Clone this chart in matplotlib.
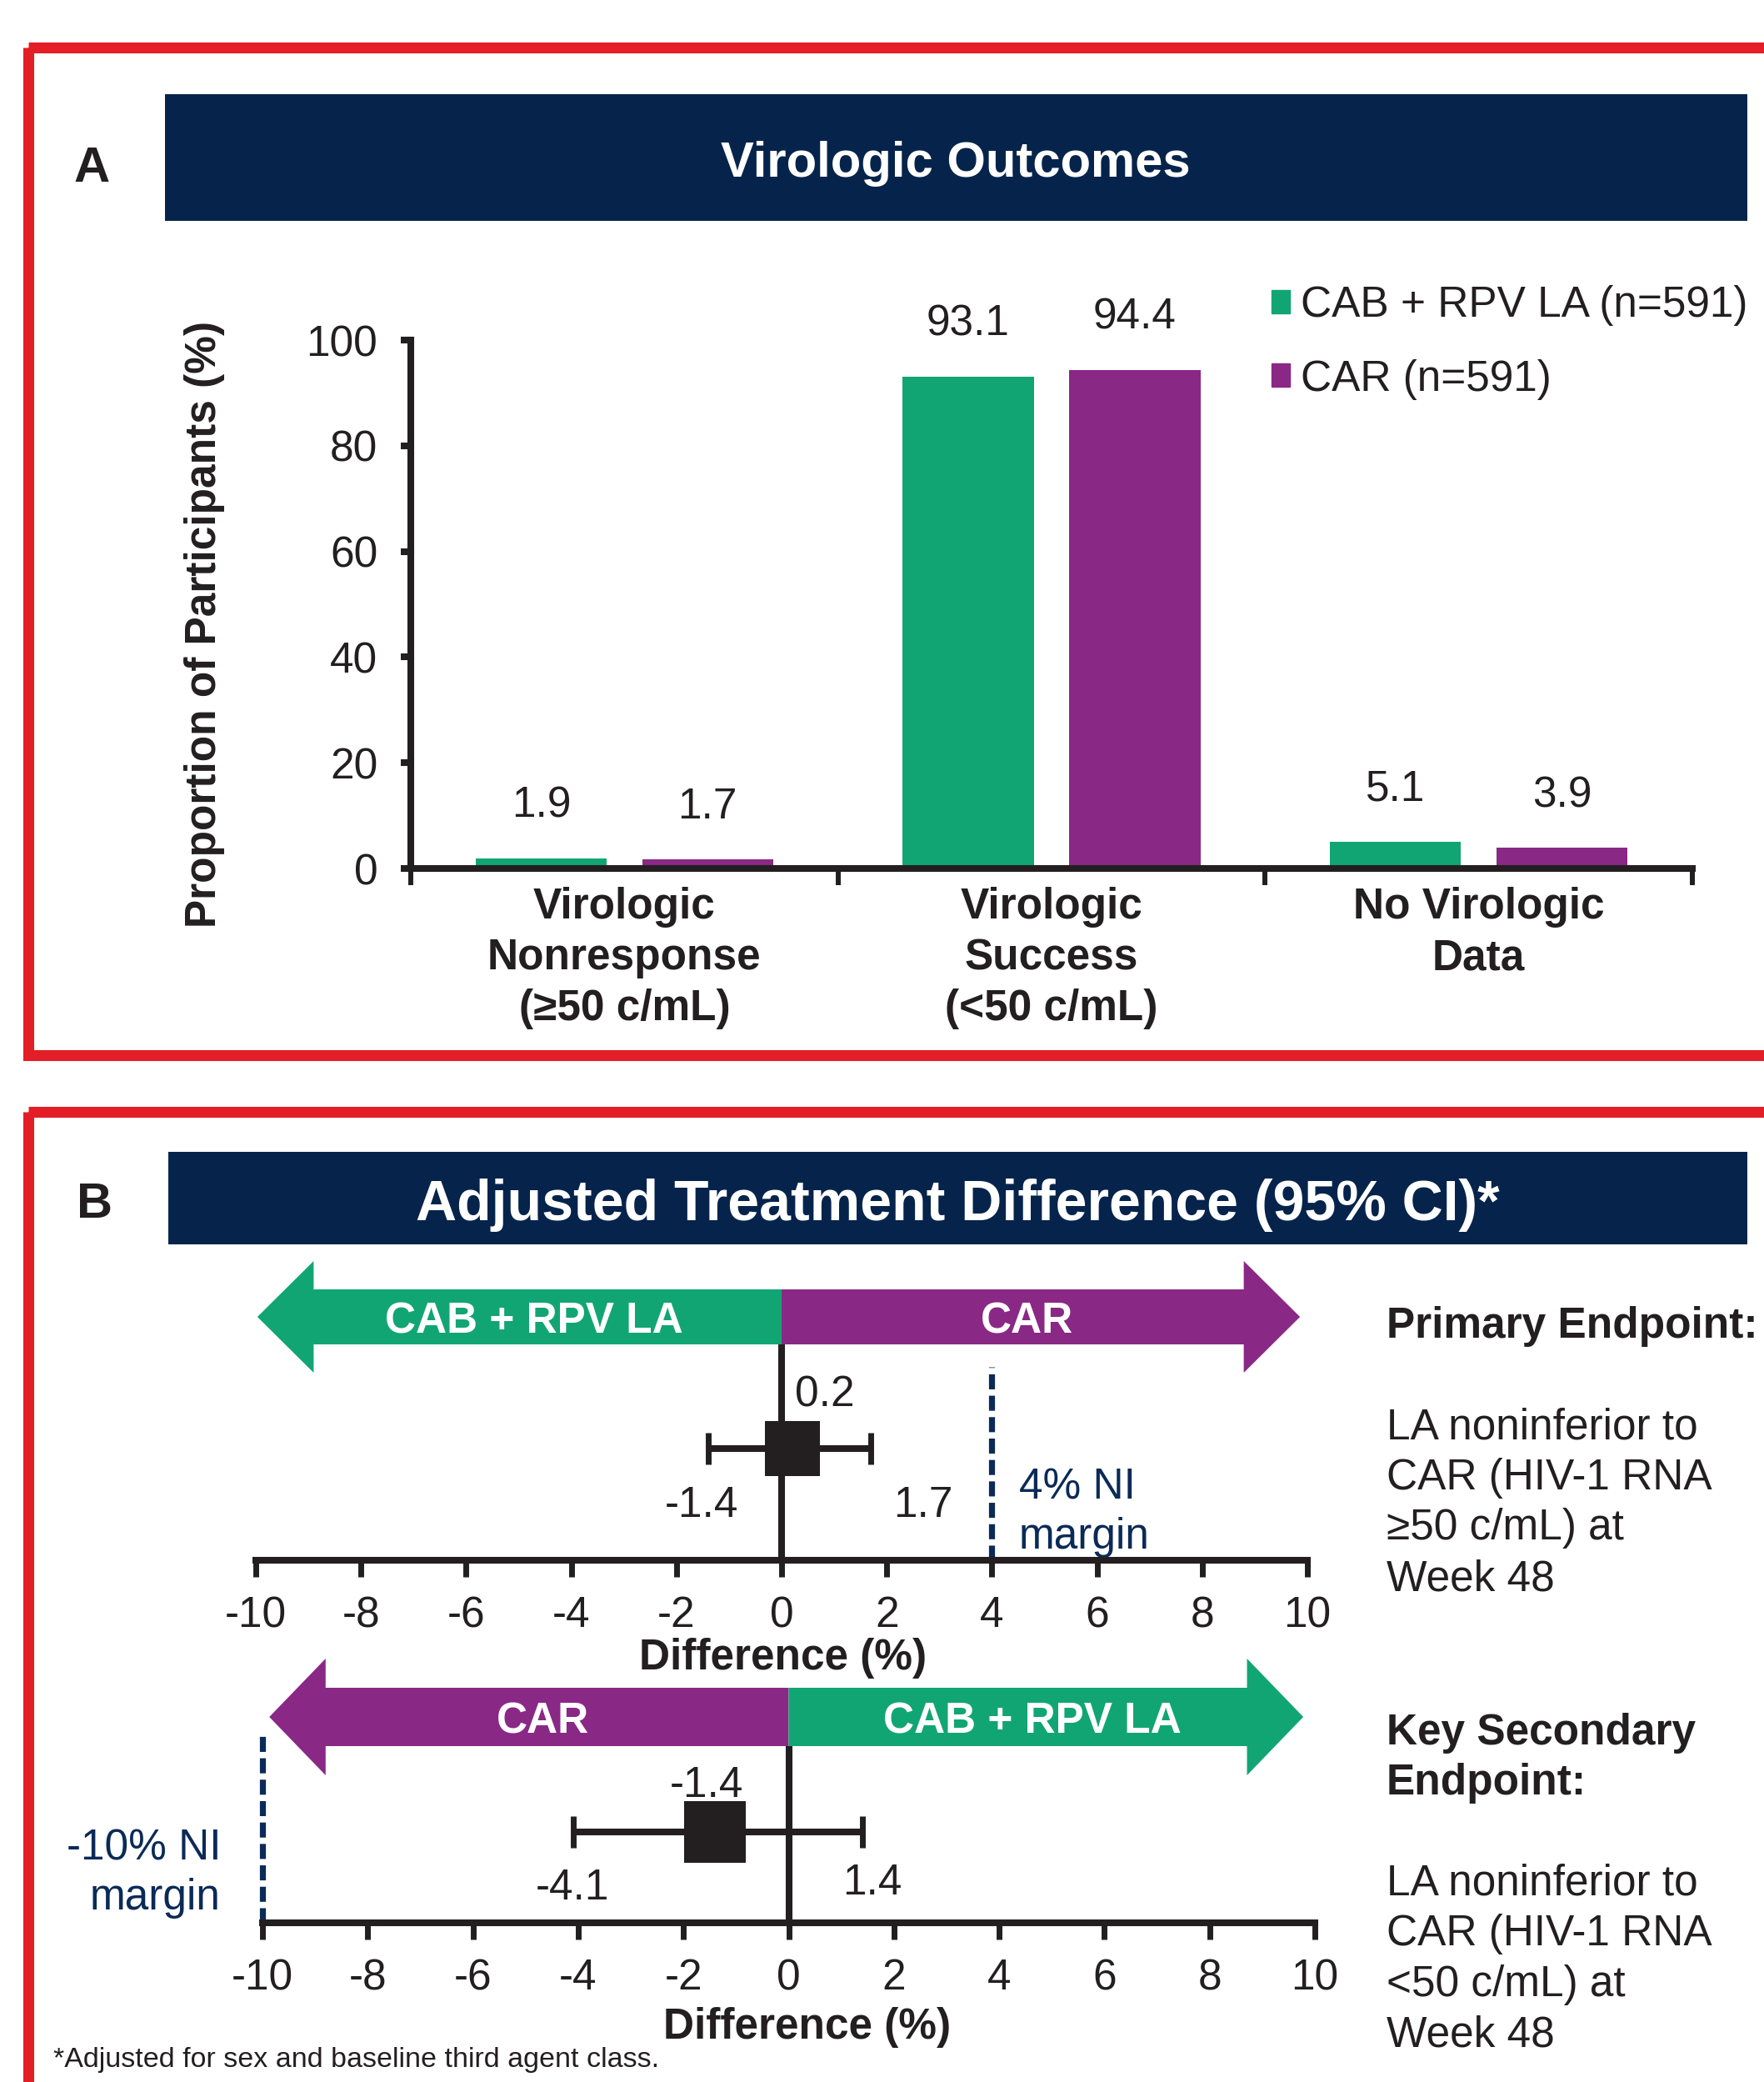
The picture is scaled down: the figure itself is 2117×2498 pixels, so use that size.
import matplotlib
matplotlib.use('Agg')
import matplotlib.pyplot as plt
from matplotlib.patches import Rectangle, Polygon, Patch
import numpy as np

plt.rcParams['font.family'] = ['Liberation Sans', 'DejaVu Sans']
plt.rcParams['lines.scale_dashes'] = False
plt.rcParams['axes.unicode_minus'] = False

# ---------------- data ----------------
categories = ['Virologic\nNonresponse\n(≥50 c/mL)',
              'Virologic\nSuccess\n(<50 c/mL)',
              'No Virologic\nData']
cab_rpv = [1.9, 93.1, 5.1]
car = [1.7, 94.4, 3.9]
series_labels = ['CAB + RPV LA (n=591)', 'CAR (n=591)']
y_ticks = [0, 20, 40, 60, 80, 100]

diff_ticks = [-10, -8, -6, -4, -2, 0, 2, 4, 6, 8, 10]
primary_est = 0.2
primary_ci = [-1.4, 1.7]
primary_margin = 4
secondary_est = -1.4
secondary_ci = [-4.1, 1.4]
secondary_margin = -10

# ---------------- style ----------------
W, H, DPI = 2117, 2498, 100
GREEN = '#12a574'
PURPLE = '#8a2886'
NAVY = '#06244b'
RED = '#e31e26'
BLACK = '#231f20'
NI_BLUE = '#0b2a57'
FS = 37
LW = 5.8

fig = plt.figure(figsize=(W / DPI, H / DPI), dpi=DPI)
bg = fig.add_axes([0, 0, 1, 1], zorder=-1)
bg.set_xlim(0, W)
bg.set_ylim(H, 0)
bg.axis('off')


def add_ax(left, top, right, bottom):
    a = fig.add_axes([left / W, 1 - bottom / H, (right - left) / W, (bottom - top) / H])
    a.set_facecolor('none')
    return a


# red frames
bg.add_patch(Rectangle((34, 57), 2300, 1266 - 57, fill=False, edgecolor=RED, lw=9.4))
bg.add_patch(Rectangle((34, 1334), 2300, 1400, fill=False, edgecolor=RED, lw=9.4))

# ---------------- Panel A ----------------
bg.add_patch(Rectangle((198, 113), 2097 - 198, 265 - 113, color=NAVY, lw=0))
bg.text(1147, 212, 'Virologic Outcomes', color='white', fontsize=43, fontweight='bold',
        ha='center', va='baseline')
bg.text(110, 218, 'A', color=BLACK, fontsize=43, fontweight='bold', ha='center', va='baseline')

axA = add_ax(493, 408, 2031, 1042)
x = np.arange(len(categories))
bw, off = 0.307, 0.195
axA.bar(x - off, cab_rpv, bw, color=GREEN, lw=0)
axA.bar(x + off, car, bw, color=PURPLE, lw=0)
axA.set_xlim(-0.5, 2.5)
axA.set_ylim(0, 100)
for s in ['top', 'right']:
    axA.spines[s].set_visible(False)
for s in ['left', 'bottom']:
    axA.spines[s].set_linewidth(LW)
    axA.spines[s].set_color(BLACK)
axA.set_yticks(y_ticks)
axA.tick_params(axis='y', length=8.6, width=LW, pad=20, labelsize=FS, colors=BLACK)
axA.set_xticks([-0.5, 0.5, 1.5, 2.5], ['', '', '', ''])
axA.tick_params(axis='x', which='major', length=14.4, width=4.3, color=BLACK)
axA.set_xticks(x, categories, minor=True, fontsize=FS, fontweight='bold', linespacing=1.31)
axA.tick_params(axis='x', which='minor', length=0, pad=16, labelcolor=BLACK)

for xs, vals in ((x - off, cab_rpv), (x + off, car)):
    for xi, v in zip(xs, vals):
        axA.annotate(f'{v:.1f}', (xi, v), xytext=(0, 49), textcoords='offset pixels',
                     ha='center', va='baseline', fontsize=FS, color=BLACK,
                     annotation_clip=False)

leg = axA.legend([Patch(color=GREEN), Patch(color=PURPLE)], series_labels,
                 loc='upper left', bbox_to_anchor=(1526 / W, 1 - 342 / H),
                 bbox_transform=fig.transFigure, frameon=False, fontsize=FS,
                 handlelength=0.43, handleheight=0.47, handletextpad=0.25,
                 labelspacing=0.77, borderpad=0, borderaxespad=0, labelcolor=BLACK)

bg.text(245, 749, 'Proportion of Participants (%)', rotation=90, ha='center', va='center',
        fontsize=FS, fontweight='bold', color=BLACK)

# ---------------- Panel B ----------------
bg.add_patch(Rectangle((202, 1382), 2097 - 202, 1493 - 1382, color=NAVY, lw=0))
bg.text(1149, 1464, 'Adjusted Treatment Difference (95% CI)*', color='white', fontsize=49,
        fontweight='bold', ha='center', va='baseline')
bg.text(113, 1461, 'B', color=BLACK, fontsize=43, fontweight='bold', ha='center', va='baseline')


def forest(ax, height, est, ci, margin, left_lab, left_col, right_lab, right_col,
           arrow_y, bar_h, head_h, tips, zero_top, row_y, sq, ni_top,
           est_off, lo_off, hi_off, xlabel_pos):
    ax.set_xlim(-10, 10)
    ax.set_ylim(0, height)
    hl = 1.07
    tl, tr = tips
    left_poly = [(0, arrow_y + bar_h), (tl + hl, arrow_y + bar_h), (tl + hl, arrow_y + head_h),
                 (tl, arrow_y), (tl + hl, arrow_y - head_h), (tl + hl, arrow_y - bar_h),
                 (0, arrow_y - bar_h)]
    right_poly = [(0, arrow_y + bar_h), (tr - hl, arrow_y + bar_h), (tr - hl, arrow_y + head_h),
                  (tr, arrow_y), (tr - hl, arrow_y - head_h), (tr - hl, arrow_y - bar_h),
                  (0, arrow_y - bar_h)]
    ax.add_patch(Polygon(left_poly, closed=True, color=left_col, lw=0, clip_on=False))
    ax.add_patch(Polygon(right_poly, closed=True, color=right_col, lw=0, clip_on=False))
    ax.text(0.473 * tl, arrow_y - 20, left_lab, color='white', fontsize=FS, fontweight='bold',
            ha='center', va='baseline')
    ax.text(0.473 * tr, arrow_y - 20, right_lab, color='white', fontsize=FS, fontweight='bold',
            ha='center', va='baseline')
    ax.plot([0, 0], [0, zero_top], color=BLACK, lw=LW, solid_capstyle='butt', zorder=2)
    ax.plot([margin, margin], [0, ni_top], color=NI_BLUE, lw=5.2, dashes=(13, 5.5),
            clip_on=False, zorder=2)
    ax.errorbar([est], [row_y], xerr=[[est - ci[0]], [ci[1] - est]], fmt='none',
                ecolor=BLACK, elinewidth=LW, capsize=14, capthick=5, zorder=3)
    ax.plot([est], [row_y], marker='s', ms=sq * 0.72, color=BLACK, mew=0, zorder=4)
    for val, offs in ((est, est_off), (ci[0], lo_off), (ci[1], hi_off)):
        ax.annotate(f'{val:.1f}', (val, row_y), xytext=offs, textcoords='offset pixels',
                    ha='center', va='baseline', fontsize=FS, color=BLACK, annotation_clip=False)
    for s in ['top', 'right', 'left']:
        ax.spines[s].set_visible(False)
    ax.spines['bottom'].set_linewidth(LW)
    ax.spines['bottom'].set_color(BLACK)
    ax.set_yticks([])
    ax.set_xticks(diff_ticks)
    ax.tick_params(axis='x', length=14.4, width=5, pad=16, labelsize=FS, colors=BLACK)
    ax.set_xlabel('Difference (%)', fontsize=FS, fontweight='bold', color=BLACK)
    ax.xaxis.label.set_va('baseline')
    ax.xaxis.set_label_coords(*xlabel_pos)


ax1 = add_ax(307, 1500, 1569, 1872)
forest(ax1, 372, primary_est, primary_ci, primary_margin,
       'CAB + RPV LA', GREEN, 'CAR', PURPLE,
       arrow_y=292, bar_h=33, head_h=67, tips=(-9.97, 9.86), zero_top=259,
       row_y=134, sq=67, ni_top=232,
       est_off=(39, 50), lo_off=(-8, -82), hi_off=(63, -82),
       xlabel_pos=((940 - 307) / 1262, (1872 - 2003) / 372))

ax2 = add_ax(315, 1975, 1578, 2307)
forest(ax2, 332, secondary_est, secondary_ci, secondary_margin,
       'CAR', PURPLE, 'CAB + RPV LA', GREEN,
       arrow_y=247, bar_h=35, head_h=70, tips=(-9.87, 9.78), zero_top=212,
       row_y=109, sq=74, ni_top=224,
       est_off=(-10, 42), lo_off=(-1, -81), hi_off=(12, -75),
       xlabel_pos=((969 - 315) / 1263, (2307 - 2446) / 332))

# NI margin labels
bg.text(1223, 1798, '4% NI', color=NI_BLUE, fontsize=FS, ha='left', va='baseline')
bg.text(1223, 1858, 'margin', color=NI_BLUE, fontsize=FS, ha='left', va='baseline')
bg.text(265, 2231, '-10% NI', color=NI_BLUE, fontsize=FS, ha='right', va='baseline')
bg.text(265, 2291, 'margin', color=NI_BLUE, fontsize=FS, ha='right', va='baseline')

# right-side descriptions
right_blocks = [
    (1605, 'Primary Endpoint:', 'bold'),
    (1726, 'LA noninferior to', 'normal'),
    (1787, 'CAR (HIV-1 RNA', 'normal'),
    (1847, '≥50 c/mL) at', 'normal'),
    (1908, 'Week 48', 'normal'),
    (2093, 'Key Secondary', 'bold'),
    (2153, 'Endpoint:', 'bold'),
    (2274, 'LA noninferior to', 'normal'),
    (2334, 'CAR (HIV-1 RNA', 'normal'),
    (2395, '<50 c/mL) at', 'normal'),
    (2456, 'Week 48', 'normal'),
]
for b, t, wgt in right_blocks:
    bg.text(1664, b, t, fontsize=FS, fontweight=wgt, color=BLACK, ha='left', va='baseline')

bg.text(64, 2480, '*Adjusted for sex and baseline third agent class.', fontsize=24.5,
        color=BLACK, ha='left', va='baseline')

fig.savefig('out.png', dpi=DPI)
